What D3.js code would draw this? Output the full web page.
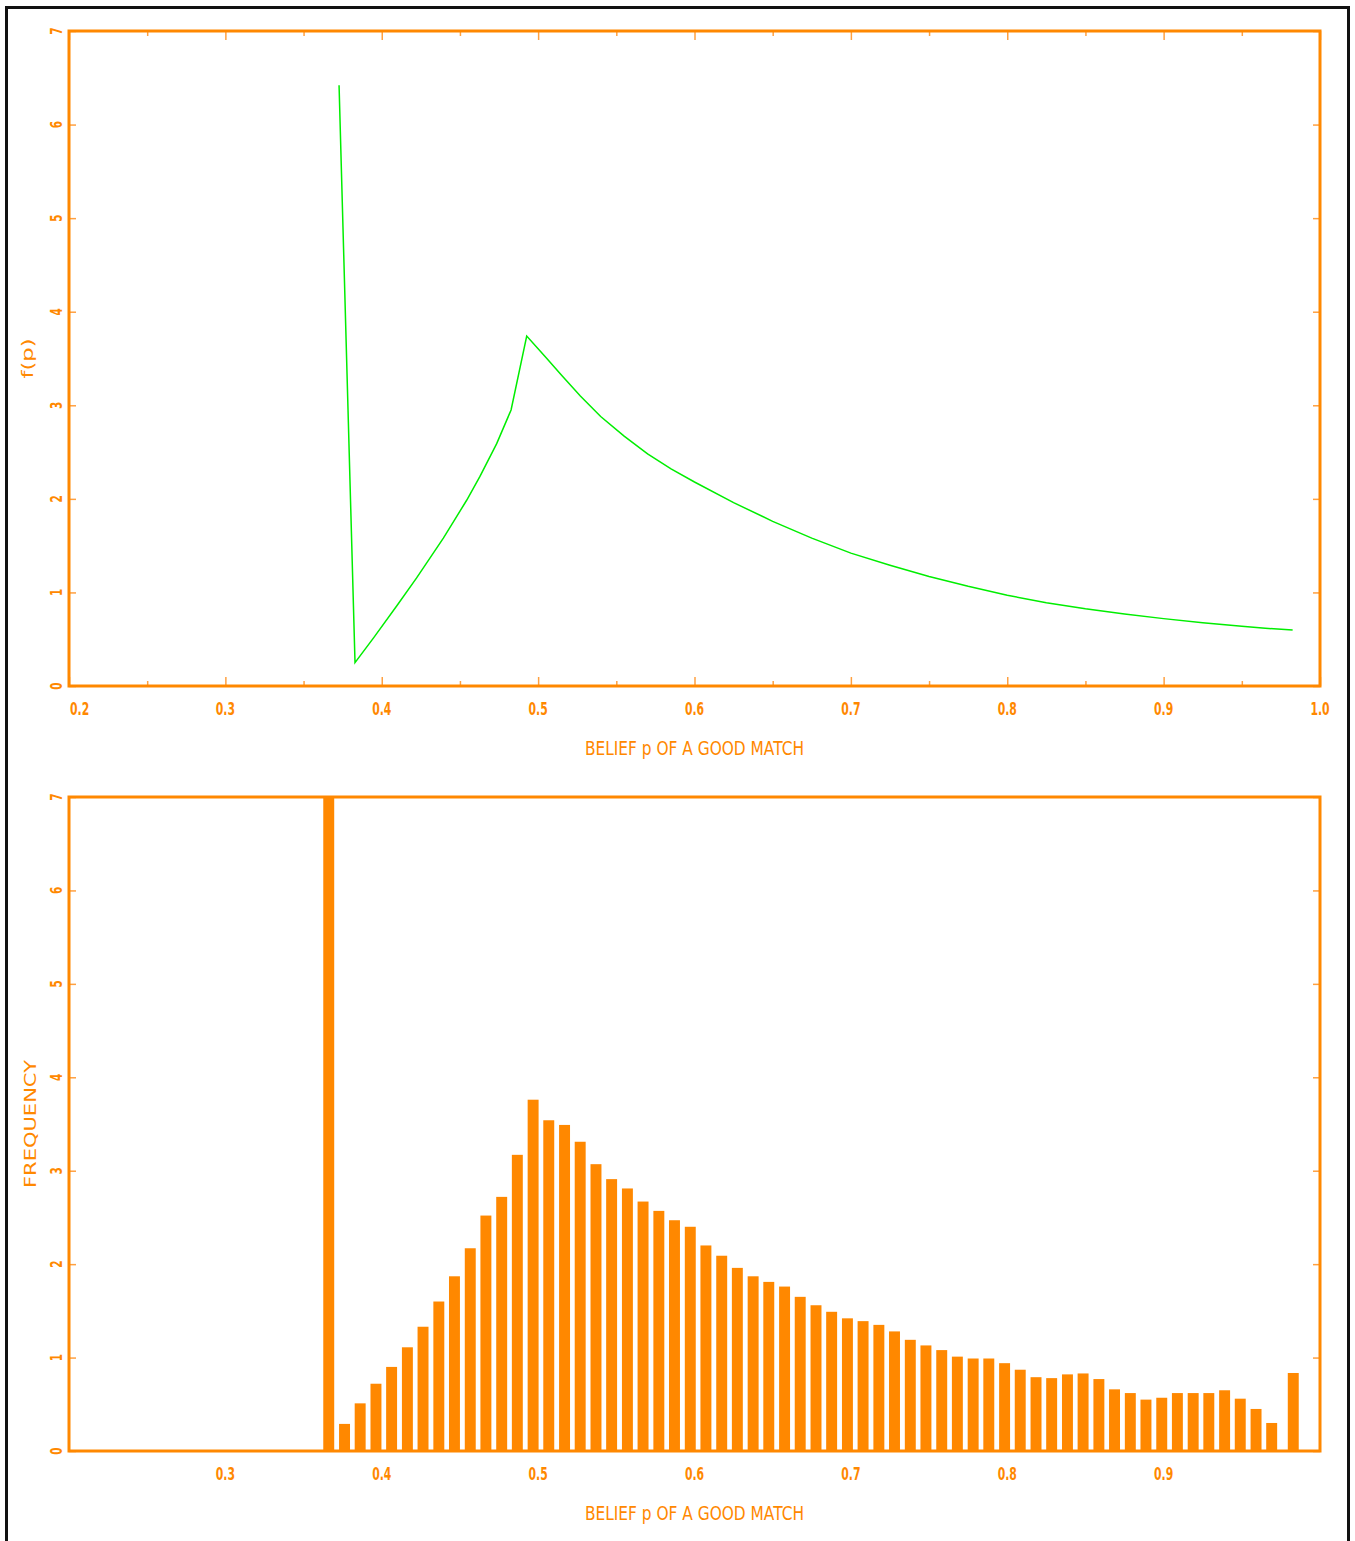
<!DOCTYPE html>
<html>
<head>
<meta charset="utf-8">
<script src="https://cdn.jsdelivr.net/npm/d3@7/dist/d3.min.js"></script>
<style>
  body { margin: 0; background: #fff; }
  text { font-family: "DejaVu Sans", sans-serif; fill: #ff8800; }
</style>
</head>
<body>
<svg id="chart" width="1355" height="1541"></svg>
<script>
// Data =================================================================
// upper panel: density curve f(p)
var curveP = [0.3727, 0.3829, 0.3950, 0.4100, 0.4223, 0.4394, 0.4543, 0.4628, 0.4735, 0.4827,
              0.4927, 0.5050, 0.5150, 0.5270, 0.5400, 0.5550, 0.5700, 0.5850, 0.6000, 0.6250,
              0.6500, 0.6750, 0.7000, 0.7250, 0.7500, 0.7750, 0.8000, 0.8250, 0.8500, 0.8750,
              0.9000, 0.9250, 0.9500, 0.9650, 0.9825];
var curveF = [6.42, 0.25, 0.52, 0.865, 1.155, 1.58, 1.985, 2.24, 2.59, 2.95,
              3.74, 3.51, 3.32, 3.10, 2.88, 2.67, 2.48, 2.32, 2.18, 1.96,
              1.76, 1.58, 1.42, 1.29, 1.17, 1.065, 0.97, 0.89, 0.825, 0.77,
              0.72, 0.675, 0.638, 0.618, 0.598];

// lower panel: histogram (bin centre, frequency)
var binCenters = [0.3661, 0.3762, 0.3862, 0.3963, 0.4063, 0.4164, 0.4264, 0.4365, 0.4465, 0.4566,
                  0.4666, 0.4767, 0.4867, 0.4968, 0.5068, 0.5169, 0.5269, 0.5370, 0.5470, 0.5571,
                  0.5671, 0.5772, 0.5872, 0.5973, 0.6073, 0.6174, 0.6274, 0.6375, 0.6475, 0.6576,
                  0.6676, 0.6777, 0.6877, 0.6978, 0.7078, 0.7179, 0.7279, 0.7380, 0.7480, 0.7581,
                  0.7681, 0.7782, 0.7882, 0.7983, 0.8083, 0.8184, 0.8284, 0.8385, 0.8485, 0.8586,
                  0.8686, 0.8787, 0.8887, 0.8988, 0.9088, 0.9189, 0.9289, 0.9390, 0.9490, 0.9591,
                  0.9691, 0.9829];
var binHeights = [7.50, 0.29, 0.51, 0.72, 0.90, 1.11, 1.33, 1.60, 1.87, 2.17,
                  2.52, 2.72, 3.17, 3.76, 3.54, 3.49, 3.31, 3.07, 2.91, 2.81,
                  2.67, 2.57, 2.47, 2.40, 2.20, 2.09, 1.96, 1.87, 1.81, 1.76,
                  1.65, 1.56, 1.49, 1.42, 1.39, 1.35, 1.28, 1.19, 1.13, 1.08,
                  1.01, 0.99, 0.99, 0.94, 0.87, 0.79, 0.78, 0.82, 0.83, 0.77,
                  0.66, 0.62, 0.55, 0.57, 0.62, 0.62, 0.62, 0.65, 0.56, 0.45,
                  0.30, 0.835];

// ticks and labels
var xMajor = [0.2, 0.3, 0.4, 0.5, 0.6, 0.7, 0.8, 0.9, 1.0];
var xMinor = [0.25, 0.35, 0.45, 0.55, 0.65, 0.75, 0.85, 0.95];
var xLabelsTop = ["0.2", "0.3", "0.4", "0.5", "0.6", "0.7", "0.8", "0.9", "1.0"];
var xLabelsBottom = ["0.3", "0.4", "0.5", "0.6", "0.7", "0.8", "0.9"];
var yTicks = [0, 1, 2, 3, 4, 5, 6, 7];
var yLabels = ["0", "1", "2", "3", "4", "5", "6", "7"];
var xTitle = "BELIEF p OF A GOOD MATCH";

// Setup ================================================================
var orange = "#ff8800";
var tickOrange = "#ffa040";
var svg = d3.select("#chart");

// black outer frame
svg.append("rect")
  .attr("x", 6.5).attr("y", 7.5)
  .attr("width", 1342).attr("height", 1580)
  .attr("fill", "none").attr("stroke", "#111").attr("stroke-width", 3);

var left = 69, right = 1320;
var x = d3.scaleLinear().domain([0.2, 1.0]).range([left, right]);

// draws ticks, labels and frame for one panel
function drawPanel(top, bottom, opts) {
  var y = d3.scaleLinear().domain([0, 7]).range([bottom, top]);
  var g = svg.append("g");

  function styleAxis(sel) {
    sel.select(".domain").remove();
    sel.selectAll("line").attr("stroke", tickOrange).attr("stroke-width", 1.5);
  }

  if (opts.xTicks) {
    g.append("g").attr("transform", "translate(0," + bottom + ")")
      .call(d3.axisTop(x).tickValues(xMajor).tickSize(9).tickFormat(""))
      .call(styleAxis);
    g.append("g").attr("transform", "translate(0," + bottom + ")")
      .call(d3.axisTop(x).tickValues(xMinor).tickSize(5).tickFormat(""))
      .call(styleAxis);
    g.append("g").attr("transform", "translate(0," + top + ")")
      .call(d3.axisBottom(x).tickValues(xMajor).tickSize(9).tickFormat(""))
      .call(styleAxis);
    g.append("g").attr("transform", "translate(0," + top + ")")
      .call(d3.axisBottom(x).tickValues(xMinor).tickSize(5).tickFormat(""))
      .call(styleAxis);
  }
  g.append("g").attr("transform", "translate(" + left + ",0)")
    .call(d3.axisRight(y).tickValues(yTicks).tickSize(7).tickFormat(""))
    .call(styleAxis);
  g.append("g").attr("transform", "translate(" + right + ",0)")
    .call(d3.axisLeft(y).tickValues(yTicks).tickSize(7).tickFormat(""))
    .call(styleAxis);

  // x tick labels
  opts.xLabels.forEach(function(lbl) {
    var v = +lbl;
    var px = x(v);
    var anchor = "middle";
    if (v === 0.2) { px = px + 1; anchor = "start"; }
    g.append("text")
      .attr("transform", "translate(" + px + "," + (bottom + 29) + ") scale(0.62,1)")
      .attr("text-anchor", anchor)
      .attr("font-size", 17.5)
      .attr("font-weight", "bold")
      .text(lbl);
  });

  // y tick labels (rotated)
  yLabels.forEach(function(lbl, i) {
    g.append("text")
      .attr("transform", "translate(62," + y(yTicks[i]) + ") rotate(-90) scale(0.66,1)")
      .attr("text-anchor", "middle")
      .attr("font-size", 16)
      .attr("font-weight", "bold")
      .text(lbl);
  });

  // x title
  g.append("text")
    .attr("x", (left + right) / 2).attr("y", bottom + 69)
    .attr("text-anchor", "middle")
    .attr("font-size", 19.5)
    .attr("textLength", 219).attr("lengthAdjust", "spacingAndGlyphs")
    .text(xTitle);

  // y title
  g.append("text")
    .attr("transform", "translate(" + opts.yTitleX + "," + (top + bottom) / 2 + ") rotate(-90)")
    .attr("text-anchor", "middle")
    .attr("font-size", 16.5)
    .attr("textLength", opts.yTitleLen).attr("lengthAdjust", "spacingAndGlyphs")
    .text(opts.yTitle);

  return { g: g, y: y };
}

// Upper panel: curve =====================================================
var p1 = drawPanel(31, 686, { xTicks: true, xLabels: xLabelsTop, yTitle: "f(p)", yTitleX: 33, yTitleLen: 40 });
var line = d3.line()
  .x(function(d) { return x(d[0]); })
  .y(function(d) { return p1.y(d[1]); });
p1.g.append("path")
  .datum(curveP.map(function(p, i) { return [p, curveF[i]]; }))
  .attr("d", line)
  .attr("fill", "none")
  .attr("stroke", "#00ee00")
  .attr("stroke-width", 1.5);

// Lower panel: histogram =================================================
var p2 = drawPanel(797, 1451, { xTicks: false, xLabels: xLabelsBottom, yTitle: "FREQUENCY", yTitleX: 36, yTitleLen: 128 });
svg.append("clipPath").attr("id", "clip2")
  .append("rect").attr("x", left).attr("y", 797).attr("width", right - left).attr("height", 1451 - 797);
var halfW = 0.0035;
p2.g.append("g").attr("clip-path", "url(#clip2)")
  .selectAll("rect")
  .data(binCenters)
  .enter()
  .append("rect")
  .attr("x", function(d) { return x(d - halfW); })
  .attr("width", function(d) { return x(d + halfW) - x(d - halfW); })
  .attr("y", function(d, i) { return p2.y(binHeights[i]); })
  .attr("height", function(d, i) { return p2.y(0) - p2.y(binHeights[i]); })
  .attr("fill", orange);

// Frames drawn last so they sit on top
[[31, 686], [797, 1451]].forEach(function(b) {
  svg.append("rect")
    .attr("x", left).attr("y", b[0])
    .attr("width", right - left).attr("height", b[1] - b[0])
    .attr("fill", "none").attr("stroke", orange).attr("stroke-width", 3);
});
</script>
</body>
</html>
